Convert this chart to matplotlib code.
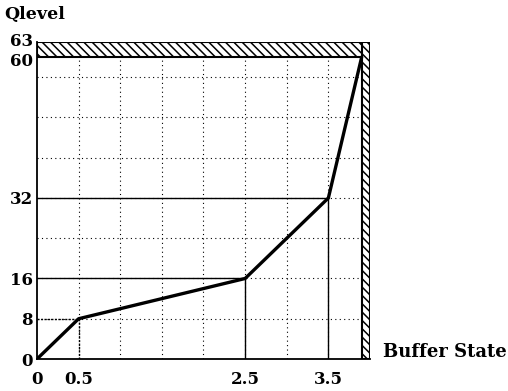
import matplotlib
matplotlib.use("Agg")
import matplotlib.pyplot as plt
import matplotlib.patches as mpatches
import matplotlib.transforms as mtransforms
import numpy as np

# piecewise Qlevel vs buffer state
buffer_state = [0, 0.5, 2.5, 3.5, 3.9]
qlevel = [0, 8, 16, 32, 60]

x_ticks = [0, 0.5, 2.5, 3.5]
x_tick_labels = ['0', '0.5', '2.5', '3.5']
y_ticks = [0, 8, 16, 32, 60, 63]

plt.rcParams['font.family'] = 'DejaVu Serif'
plt.rcParams['font.weight'] = 'bold'
plt.rcParams['hatch.linewidth'] = 1.1

fig = plt.figure(figsize=(5.08, 3.91), dpi=100)
ax = fig.add_axes([37/508, 1 - 359/391, 333/508, 317/391])
ax.set_xlim(0, 4.0)
ax.set_ylim(0, 63)

# dotted grid inside the usable area
for gx in np.arange(0.5, 3.9, 0.5):
    ax.plot([gx, gx], [0, 60], color='black', lw=0.8, ls=(0, (1, 3)), zorder=1)
for gy in np.arange(8, 60, 8):
    ax.plot([0, 3.9], [gy, gy], color='black', lw=0.8, ls=(0, (1, 3)), zorder=1)

# guide lines from the break points
for i in range(1, 4):
    ls = (0, (1.5, 1)) if i == 1 else '-'
    ax.plot([buffer_state[i], buffer_state[i]], [0, qlevel[i]], color='black', lw=1.0, ls=ls, zorder=2)
    ax.plot([0, buffer_state[i]], [qlevel[i], qlevel[i]], color='black', lw=1.0, ls=ls, zorder=2)

ax.plot(buffer_state, qlevel, color='black', lw=2.4, solid_capstyle='round', zorder=4)

# hatched limits: Qlevel above 60 and buffer above 3.9
ax.add_patch(mpatches.Rectangle((0, 60), 4.0, 3, facecolor='white', edgecolor='black',
                                hatch='\\\\\\\\', lw=1.5, zorder=3))
ax.add_patch(mpatches.Rectangle((3.9, 0), 0.1, 63, facecolor='white', edgecolor='black',
                                hatch='\\\\\\\\', lw=1.5, zorder=3))

for s in ['top', 'right']:
    ax.spines[s].set_visible(False)
for s in ['left', 'bottom']:
    ax.spines[s].set_linewidth(1.3)

ax.set_xticks(x_ticks)
ax.set_xticklabels(x_tick_labels)
ax.set_yticks(y_ticks)
ax.tick_params(length=0, labelsize=12)
ax.tick_params(axis='x', pad=9)
ax.tick_params(axis='y', pad=3)

# pull the 60 / 63 labels apart a little
ylabels = ax.get_yticklabels()
ylabels[-1].set_transform(ylabels[-1].get_transform() +
                          mtransforms.ScaledTranslation(0, 2/72, fig.dpi_scale_trans))
ylabels[-2].set_transform(ylabels[-2].get_transform() +
                          mtransforms.ScaledTranslation(0, -2/72, fig.dpi_scale_trans))

fig.text(4/508, 1 - 14/391, 'Qlevel', fontsize=12.5, va='center', ha='left')
fig.text(383/508, 1 - 352/391, 'Buffer State', fontsize=13, va='center', ha='left')

fig.savefig('out.png', dpi=100)
